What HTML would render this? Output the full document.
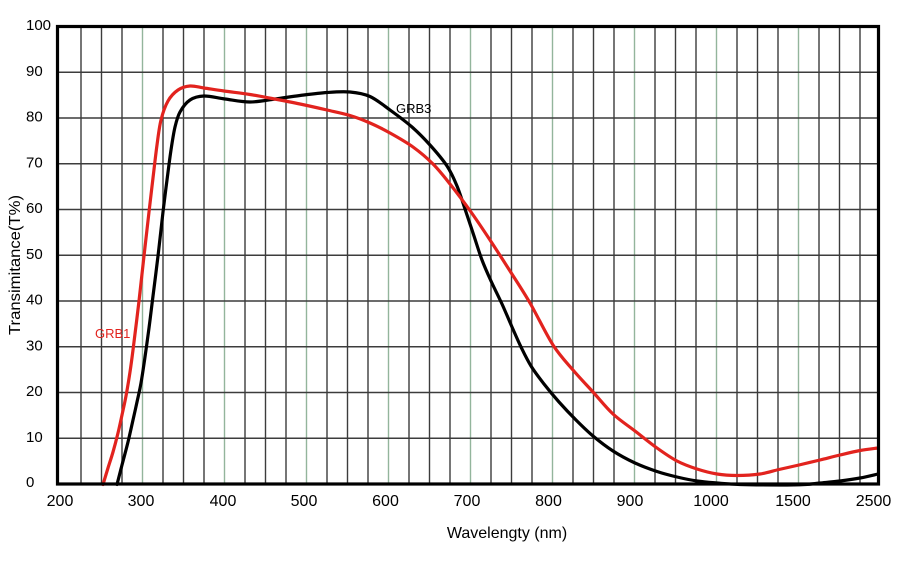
<!DOCTYPE html>
<html>
<head>
<meta charset="utf-8">
<style>
html,body{margin:0;padding:0;background:#fff;}
svg{display:block;}
text{font-family:"Liberation Sans",Arial,sans-serif;}
</style>
</head>
<body>
<svg id="chart" width="900" height="562" viewBox="0 0 900 562" xmlns="http://www.w3.org/2000/svg">
<rect x="0" y="0" width="900" height="562" fill="#ffffff"/>
<g id="vgrid"></g>
<g id="hgrid" stroke="#3c3c3c" stroke-width="1.4">
  <line x1="57" y1="72.25" x2="879" y2="72.25"/>
  <line x1="57" y1="118" x2="879" y2="118"/>
  <line x1="57" y1="163.75" x2="879" y2="163.75"/>
  <line x1="57" y1="209.5" x2="879" y2="209.5"/>
  <line x1="57" y1="255.25" x2="879" y2="255.25"/>
  <line x1="57" y1="301" x2="879" y2="301"/>
  <line x1="57" y1="346.75" x2="879" y2="346.75"/>
  <line x1="57" y1="392.5" x2="879" y2="392.5"/>
  <line x1="57" y1="438.25" x2="879" y2="438.25"/>
</g>
<path id="black" fill="none" stroke="#000" stroke-width="3.2" stroke-linejoin="round" stroke-linecap="round" d=""/>
<path id="red" fill="none" stroke="#e2231e" stroke-width="3.2" stroke-linejoin="round" stroke-linecap="round" d=""/>
<rect x="57.5" y="26.5" width="821" height="457.5" fill="none" stroke="#000" stroke-width="3.2"/>

<g font-size="15" fill="#000">
  <text x="26" y="30">100</text>
  <text x="26" y="75.8">90</text>
  <text x="26" y="121.5">80</text>
  <text x="26" y="167.3">70</text>
  <text x="26" y="213">60</text>
  <text x="26" y="258.8">50</text>
  <text x="26" y="304.5">40</text>
  <text x="26" y="350.3">30</text>
  <text x="26" y="396">20</text>
  <text x="26" y="441.8">10</text>
  <text x="26" y="487">0</text>
</g>
<g font-size="16" fill="#000" text-anchor="middle">
  <text x="60" y="506">200</text>
  <text x="141" y="506">300</text>
  <text x="223" y="506">400</text>
  <text x="304" y="506">500</text>
  <text x="385.5" y="506">600</text>
  <text x="467" y="506">700</text>
  <text x="548.5" y="506">800</text>
  <text x="630" y="506">900</text>
  <text x="711" y="506">1000</text>
  <text x="793" y="506">1500</text>
  <text x="873.5" y="506">2500</text>
</g>
<text x="507" y="538" font-size="16" text-anchor="middle" fill="#000">Wavelengty (nm)</text>
<text transform="translate(20,265) rotate(-90)" font-size="16" text-anchor="middle" fill="#000" textLength="140" lengthAdjust="spacingAndGlyphs">Transimitance(T%)</text>
<text x="396" y="113" font-size="13" fill="#000">GRB3</text>
<text x="95" y="338" font-size="13" fill="#e2231e">GRB1</text>
</svg>
<script>
(function(){
  var ns="http://www.w3.org/2000/svg";
  var vg=document.getElementById("vgrid");
  for(var k=1;k<40;k++){
    var x=60.5+k*20.5;
    var l=document.createElementNS(ns,"line");
    l.setAttribute("x1",x);l.setAttribute("x2",x);
    l.setAttribute("y1",26);l.setAttribute("y2",484);
    var green=(k%4===0);
    l.setAttribute("stroke",green?"#93b59c":"#3c3c3c");
    l.setAttribute("stroke-width","1.4");
    vg.appendChild(l);
  }
  var black=[[117,484.5],[122,465],[128,442],[133,420],[137,402],[141,383],[145,357],[149,328],[152,304],[158,256],[163,212],[167,180],[171,150],[175,127],[180,112],[190,100],[204,96],[225,99],[250,102],[275,99],[300,95.5],[327,92.5],[350,92],[370,96.5],[390,110],[412,127],[430,145],[447,166],[457,186],[466,212],[474,236],[482,260],[491,281],[502,304],[512,327],[521,347],[531,366],[544,384],[559,402],[576,420],[593,436],[613,451],[635,463],[657,471.5],[677,477],[697,481],[717,483],[740,484.5],[780,485],[805,484.5],[820,483],[840,481],[860,478],[878,474]];
  var red=[[103,484.5],[108,468],[113,452],[118,433],[122,415],[126,396],[130,372],[133,350],[139,301],[144,256],[149,212],[153,178],[157,145],[161,120],[168,101],[178,90],[190,86],[204,88],[224,91],[250,94.5],[272,98.5],[300,104],[327,110],[350,115.5],[370,123],[390,133],[413,147],[433,164],[450,184],[471,212],[490,240],[510,271],[530,303],[553,345],[573,370],[593,392],[613,414],[635,431],[657,448],[677,461],[697,469],[717,474],[737,475.5],[760,474],[779,469.5],[799,465],[820,460],[840,455],[860,450.5],[878,448]];
  function cr(p){
    var d="M"+p[0][0]+","+p[0][1];
    for(var i=0;i<p.length-1;i++){
      var p0=p[i>0?i-1:0],p1=p[i],p2=p[i+1],p3=p[i+2<p.length?i+2:i+1];
      var c1x=p1[0]+(p2[0]-p0[0])/6,c1y=p1[1]+(p2[1]-p0[1])/6;
      var c2x=p2[0]-(p3[0]-p1[0])/6,c2y=p2[1]-(p3[1]-p1[1])/6;
      d+=" C"+c1x.toFixed(2)+","+c1y.toFixed(2)+" "+c2x.toFixed(2)+","+c2y.toFixed(2)+" "+p2[0]+","+p2[1];
    }
    return d;
  }
  document.getElementById("black").setAttribute("d",cr(black));
  document.getElementById("red").setAttribute("d",cr(red));
})();
</script>
</body>
</html>
